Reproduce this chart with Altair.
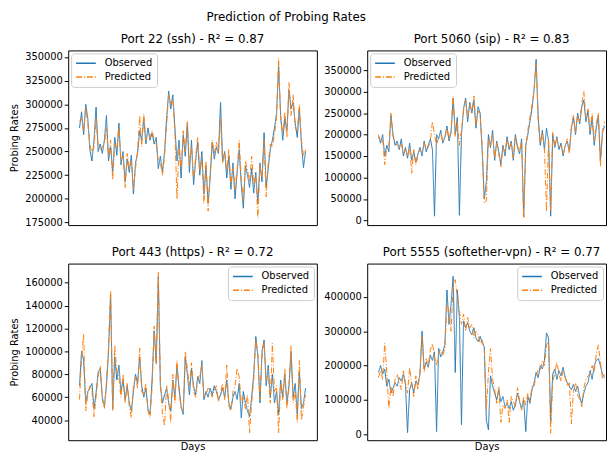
import altair as alt
import pandas as pd

FONT = "DejaVu Sans"
SERIES = ["Observed", "Predicted"]
COLORS = ["#1f77b4", "#ff7f0e"]
DASHES = [[1, 0], [6, 2, 1, 2]]

# values in thousands of probes per day
ssh_obs = [275, 292, 268, 300, 285, 252, 240, 262, 297, 250, 258, 248, 262, 288, 240, 255,
           228, 265, 246, 280, 236, 250, 218, 242, 228, 246, 205, 238, 248, 272, 262,
           285, 258, 275, 262, 270, 258, 265, 232, 245, 228, 250, 285, 314, 295, 310,
           275, 240, 262, 222, 268, 245, 280, 228, 262, 215, 240, 260, 225, 250, 205,
           235, 195, 222, 260, 242, 255, 248, 302, 240, 250, 222, 245, 210, 238, 200,
           228, 252, 215, 190, 235, 225, 212, 232, 206, 228, 195, 238, 218, 270, 212,
           232, 252, 262, 275, 290, 340, 288, 262, 285, 272, 315, 295, 302, 280, 265,
           295, 258, 233, 250]
ssh_pred = [282, 285, 272, 296, 280, 258, 248, 255, 285, 256, 252, 255, 258, 275, 245, 262,
            220, 258, 252, 275, 240, 245, 212, 248, 232, 240, 210, 232, 250, 288, 255,
            290, 262, 268, 265, 272, 262, 258, 240, 238, 225, 245, 278, 310, 300, 305,
            270, 200, 255, 232, 272, 250, 282, 235, 255, 222, 245, 265, 230, 242, 195,
            240, 187, 228, 262, 248, 260, 250, 285, 238, 248, 230, 252, 215, 232, 210,
            232, 262, 220, 198, 240, 230, 218, 245, 215, 225, 180, 235, 222, 262, 202,
            238, 258, 255, 268, 285, 349, 282, 270, 292, 265, 323, 288, 310, 275, 272,
            300, 262, 245, 252]

sip_obs = [195, 180, 200, 150, 175, 160, 245, 200, 175, 185,
           165, 190, 150, 170, 145, 180, 140, 160, 135, 155,
           170, 150, 185, 160, 175, 190, 165, 10, 200, 190,
           210, 180, 195, 220, 185, 205, 285, 200, 240, 12,
           200, 260, 285, 230, 275, 250, 280, 215, 265, 250,
           160, 50, 90, 200, 170, 210, 140, 185, 160, 130,
           175, 150, 195, 165, 185, 140, 200, 170, 155, 190,
           8, 175, 200, 230, 260, 305, 375, 240, 175, 210,
           165, 215, 185, 10, 200, 170, 195, 165, 180, 150,
           175, 185, 160, 215, 240, 200, 250, 225, 265, 280,
           230, 255, 200, 240, 175, 215, 245, 140, 205, 220]
sip_pred = [200, 185, 190, 130, 170, 175, 250, 195, 180, 175,
            170, 180, 155, 165, 150, 170, 110, 165, 130, 150,
            165, 160, 180, 165, 170, 185, 230, 200, 175, 195,
            200, 185, 190, 215, 190, 210, 290, 195, 230, 175,
            210, 255, 280, 240, 270, 255, 290, 220, 255, 245,
            175, 40, 45, 190, 175, 200, 145, 180, 155, 125,
            170, 160, 190, 170, 180, 145, 195, 175, 160, 185,
            5, 170, 210, 240, 270, 300, 365, 235, 180, 205,
            170, 20, 190, 25, 205, 175, 190, 170, 175, 155,
            170, 190, 155, 220, 245, 205, 245, 230, 270, 300,
            240, 260, 210, 250, 185, 225, 250, 125, 210, 230]

https_obs = [70, 100, 92, 55, 65, 68, 72, 50, 64, 82,
             85, 60, 52, 70, 100, 150, 50, 95, 75, 88,
             65, 75, 58, 70, 55, 48, 65, 80, 72, 95,
             70, 60, 68, 50, 45, 75, 118, 90, 165, 70,
             55, 62, 68, 55, 48, 75, 60, 88, 68, 52,
             45, 95, 80, 62, 85, 70, 62, 78, 72, 92,
             58, 65, 60, 68, 62, 70, 65, 58, 62, 68,
             60, 75, 55, 50, 60, 65, 58, 72, 42, 65,
             55, 48, 43, 60, 80, 113, 95, 55, 100, 110,
             70, 88, 60, 80, 55, 65, 45, 75, 60, 80,
             55, 70, 100, 60, 72, 45, 82, 50, 55, 68]
https_pred = [58, 95, 115, 48, 62, 70, 66, 43, 60, 78,
              87, 58, 50, 73, 105, 153, 48, 105, 82, 78,
              60, 80, 55, 72, 52, 42, 70, 78, 68, 103,
              65, 62, 72, 48, 42, 68, 122, 88, 169, 75,
              45, 35, 70, 58, 38, 80, 55, 92, 65, 50,
              48, 100, 85, 70, 90, 65, 60, 75, 80, 88,
              60, 62, 68, 65, 60, 66, 70, 56, 64, 72,
              58, 88, 52, 48, 65, 70, 85, 78, 55, 60,
              50, 62, 29, 55, 75, 110, 100, 58, 95, 108,
              75, 80, 55, 107, 65, 70, 29, 72, 58, 85,
              50, 68, 105, 55, 65, 38, 92, 40, 52, 62]

vpn_obs = [180, 200, 175, 190, 140, 160, 120, 135, 150, 140,
           165, 155, 175, 145, 5, 130, 150, 120, 155, 145,
           175, 300, 190, 210, 195, 230, 215, 240, 8, 250,
           225, 240, 260, 420, 320, 380, 460, 180, 420, 340,
           28, 330, 310, 325, 300, 290, 310, 280, 270, 285,
           265, 255, 40, 13, 170, 140, 120, 100, 130, 95,
           110, 80, 90, 75, 95, 70, 85, 120, 95, 75,
           100, 8, 110, 90, 130, 150, 180, 165, 200, 190,
           215, 295, 280, 40, 175, 190, 160, 185, 170, 195,
           165, 150, 140, 130, 145, 125, 140, 110, 90, 120,
           140, 150, 185, 160, 200, 215, 220, 200, 175, 165]
vpn_pred = [165, 185, 160, 265, 180, 75, 140, 110, 160, 175,
            150, 130, 185, 150, 120, 195, 145, 110, 170, 130,
            185, 285, 180, 220, 200, 245, 265, 225, 200, 240,
            245, 230, 250, 380, 360, 300, 440, 450, 400, 360,
            320, 350, 300, 340, 310, 320, 280, 300, 290, 265,
            275, 250, 70, 180, 250, 160, 130, 90, 140, 35,
            85, 75, 100, 35, 110, 95, 80, 135, 100, 70,
            110, 85, 120, 95, 140, 140, 170, 190, 185, 215,
            200, 260, 270, 3, 150, 180, 210, 175, 155, 185,
            170, 140, 150, 30, 125, 150, 115, 100, 80, 135,
            160, 170, 175, 200, 180, 235, 260, 210, 160, 175]

ssh_ticks = [175000, 200000, 225000, 250000, 275000, 300000, 325000, 350000]
sip_ticks = [0, 50000, 100000, 150000, 200000, 250000, 300000, 350000]
https_ticks = [40000, 60000, 80000, 100000, 120000, 140000, 160000]
vpn_ticks = [0, 100000, 200000, 300000, 400000]

RIGHT_W = 242


def panel(title, obs, pred, ydom, yticks, legend_orient, width, height, xdom,
          ytitle=None, xtitle=None, title_dx=0):
    n = len(obs)
    df = pd.DataFrame({
        "day": list(range(n)) * 2,
        "rate": [v * 1000 for v in obs] + [v * 1000 for v in pred],
        "series": ["Observed"] * n + ["Predicted"] * n,
    })
    leg = alt.Legend(title=None, orient=legend_orient, offset=3,
                     fillColor="white", strokeColor="#cccccc", cornerRadius=3,
                     padding=4, rowPadding=2, symbolType="stroke",
                     symbolSize=400, symbolStrokeWidth=1.5, clipHeight=12,
                     labelFontSize=10, labelOffset=8, labelFont=FONT,
                     labelColor="black")
    if xtitle:
        x_axis = alt.Axis(title=xtitle, labels=False, ticks=False, domain=False,
                          grid=False, titlePadding=1)
    else:
        x_axis = None
    yaxis_kw = dict(values=yticks, format="d", grid=False, domain=False)
    if ytitle:
        yaxis_kw["title"] = ytitle
        yaxis_kw["titlePadding"] = 5
    else:
        yaxis_kw["title"] = ""
    return alt.Chart(df, title=alt.TitleParams(title, dx=title_dx, offset=5)).mark_line(
        strokeWidth=1, clip=True
    ).encode(
        x=alt.X("day:Q", scale=alt.Scale(domain=xdom, nice=False, zero=False), axis=x_axis),
        y=alt.Y("rate:Q", scale=alt.Scale(domain=ydom, nice=False, zero=False),
                axis=alt.Axis(**yaxis_kw)),
        color=alt.Color("series:N", scale=alt.Scale(domain=SERIES, range=COLORS), legend=leg),
        strokeDash=alt.StrokeDash("series:N", scale=alt.Scale(domain=SERIES, range=DASHES),
                                  legend=leg),
    ).properties(width=width, height=height)


N = len(ssh_obs)
xdom_left = [-0.05 * (N - 1), 1.05 * (N - 1)]
xdom_right = [-0.05 * (N - 1), -0.05 * (N - 1) + RIGHT_W / 252 * 1.1 * (N - 1)]

tl = panel("Port 22 (ssh) - R² = 0.87", ssh_obs, ssh_pred, [172200, 357000], ssh_ticks,
           "top-left", 252, 177, xdom_left, ytitle="Probing Rates")
tr = panel("Port 5060 (sip) - R² = 0.83", sip_obs, sip_pred, [-10800, 396000], sip_ticks,
           "top-left", RIGHT_W, 177, xdom_right, title_dx=5)
bl = panel("Port 443 (https) - R² = 0.72", https_obs, https_pred, [22500, 176600], https_ticks,
           "top-right", 252, 179, xdom_left, ytitle="Probing Rates", xtitle="Days")
br = panel("Port 5555 (softether-vpn) - R² = 0.77", vpn_obs, vpn_pred, [-17200, 496800],
           vpn_ticks, "top-right", RIGHT_W, 179, xdom_right, xtitle="Days", title_dx=5)

top = alt.hconcat(tl, tr, spacing=5).resolve_scale(
    color="independent", strokeDash="independent").resolve_legend(
    color="independent", strokeDash="independent")
bottom = alt.hconcat(bl, br, spacing=5).resolve_scale(
    color="independent", strokeDash="independent").resolve_legend(
    color="independent", strokeDash="independent")

chart = alt.vconcat(top, bottom, spacing=17).resolve_scale(
    color="independent", strokeDash="independent").resolve_legend(
    color="independent", strokeDash="independent").properties(
    title=alt.TitleParams("Prediction of Probing Rates", anchor="middle", dx=-22, offset=8),
    padding={"left": 1, "top": 0, "right": 0, "bottom": 0},
).configure_view(
    stroke="black", strokeWidth=1
).configure_axis(
    labelFont=FONT, titleFont=FONT, labelFontSize=10, titleFontSize=10,
    titleFontWeight="normal", labelColor="black", titleColor="black",
    tickColor="black", tickSize=4, labelPadding=2, titlePadding=5
).configure_title(
    font=FONT, fontSize=12, fontWeight="normal", color="black"
)

chart.save("out.html", embed_options={"renderer": "svg", "actions": False})
